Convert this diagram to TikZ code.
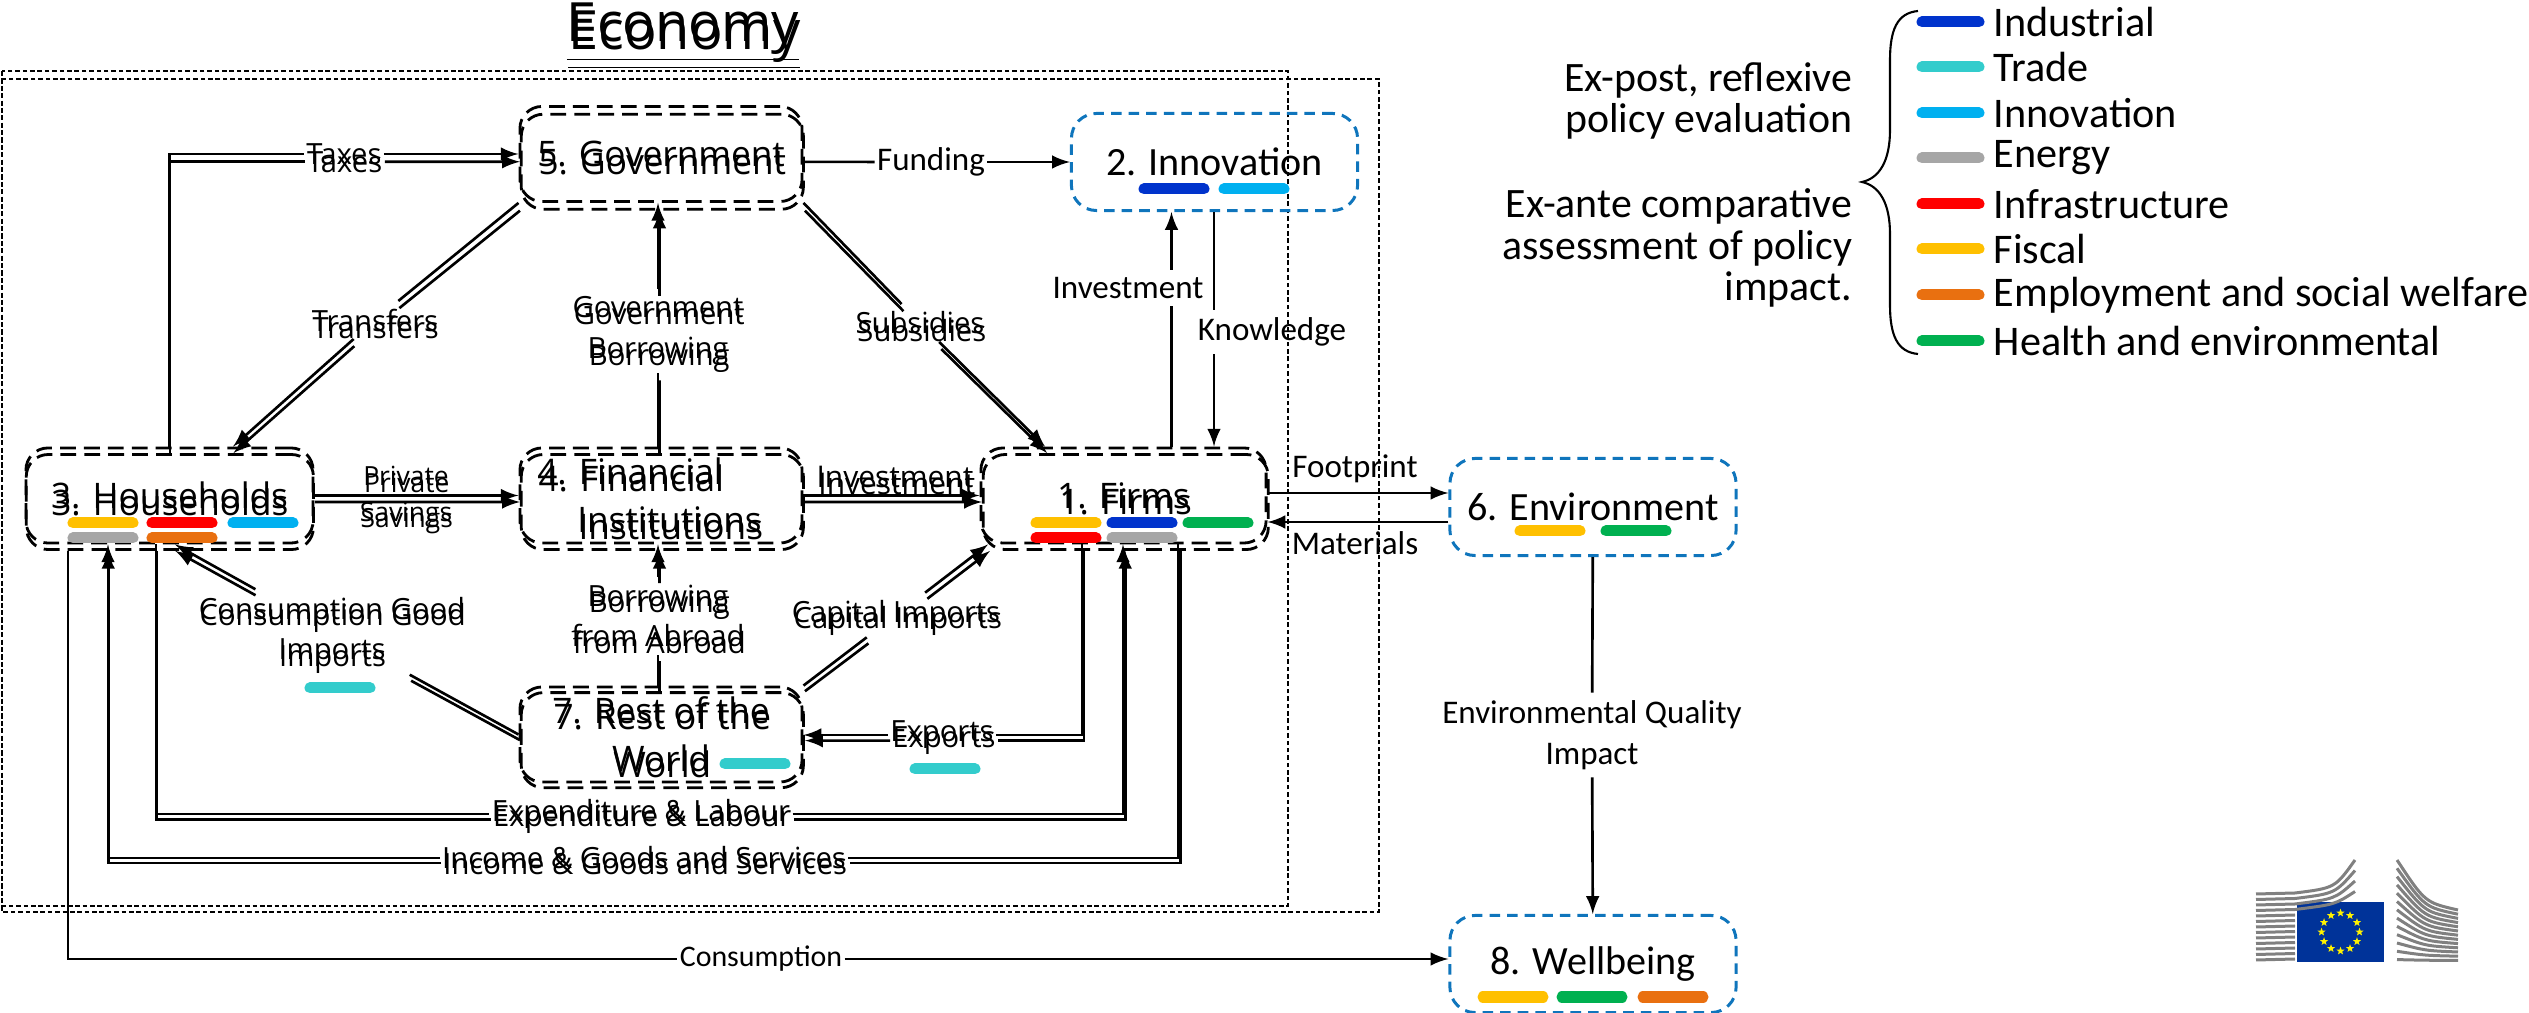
\documentclass[tikz,border=0pt]{standalone}
\usepackage{fontspec}
\setmainfont{Carlito}
\newfontfamily\econfont{Open Sans}
\usetikzlibrary{shapes.geometric}
\definecolor{cInd}{HTML}{0033CC}
\definecolor{cTra}{HTML}{33CCCC}
\definecolor{cInn}{HTML}{00B0F0}
\definecolor{cEne}{HTML}{A6A6A6}
\definecolor{cInf}{HTML}{FF0000}
\definecolor{cFis}{HTML}{FFC000}
\definecolor{cEmp}{HTML}{E97010}
\definecolor{cHea}{HTML}{00B050}
\definecolor{cBlu}{HTML}{0F75BC}
\definecolor{cFlag}{HTML}{003399}
\begin{document}
\begin{tikzpicture}[x=0.01cm,y=-0.01cm]
 \tikzstyle{ecobox}=[draw, dash pattern=on 4.5pt off 2.3pt, line width=0.8pt, rounded corners=0.22cm, inner sep=0, align=center, minimum width=2.82cm, minimum height=0.95cm, font=\econfont\fontsize{10}{13.6}\selectfont]
 \tikzstyle{blubox}=[draw=cBlu, dash pattern=on 3pt off 2pt, line width=0.85pt, rounded corners=0.25cm, inner sep=0, align=center, minimum width=2.86cm, minimum height=0.97cm, font=\fontsize{11.4}{13.6}\selectfont]
 \tikzstyle{lab}=[inner xsep=0.5pt, inner ysep=2pt, align=center, font=\econfont\fontsize{8.3}{11.6}\selectfont]
 \tikzstyle{lib}=[inner xsep=0.5pt, inner ysep=2pt, align=center, font=\fontsize{9.4}{11.6}\selectfont]
 \tikzstyle{leg}=[inner sep=0, anchor=west, font=\fontsize{12}{12}\selectfont]
 \tikzstyle{note}=[inner sep=0, anchor=east, align=right, font=\fontsize{11.9}{11.9}\selectfont]
 \tikzstyle{flow}=[->, >=latex, line width=0.75pt]
 \tikzstyle{pill}=[line width=0.11cm, line cap=round]
 \tikzstyle{frame}=[dash pattern=on 1.3pt off 0.8pt, line width=0.45pt]
 \useasboundingbox (0,0) rectangle (2529,1013);
 %
 \draw[frame] (2,71) rectangle (1288,906);
 \draw[frame] (2,79) rectangle (1379,912);
 %
 \foreach \lay/\ysc/\ysh/\xsc in {a/1/0/1,b/0.9964/-0.083/1.002}{
 \begin{scope}[yshift=\ysh cm, yscale=\ysc, xscale=\xsc]
 \node[inner sep=0, font=\econfont\fontsize{15.4}{16}\selectfont] (Title\lay) at (683,32) {\underline{Economy}};
 %
 \node[ecobox] (Gov\lay) at (661,154) {5. Government};
 \node[ecobox, minimum width=2.87cm] (Hh\lay) at (169.5,495.5) {3. Households};
 \node[ecobox, align=left] (Fin\lay) at (661,495.5) {4. Financial\\\hspace*{0.4cm}Institutions\hspace*{0.23cm}};
 \node[ecobox, minimum width=2.85cm] (Firm\lay) at (1123.5,495.5) {1. Firms};
 \node[ecobox] (Rest\lay) at (661,734.5) {7. Rest of the\\World};
 %
 \node[lab] (Tax\lay) at (344,154) {Taxes};
 \node[lab] (Tran\lay) at (375,320) {Transfers};
 \node[lab] (Gbor\lay) at (658,331) {Government\\Borrowing};
 \node[lab] (Sub\lay) at (920,323) {Subsidies};
 \node[lab, font=\econfont\fontsize{7.5}{10}\selectfont] (Sav\lay) at (406,497) {Private\\Savings};
 \node[lab, font=\econfont\fontsize{8.5}{10}\selectfont] (Inv\lay) at (895,477) {Investment};
 \node[lab] (Impo\lay) at (332,632) {Consumption Good\\Imports};
 \node[lab] (Abr\lay) at (658,616) {Borrowing\\from Abroad};
 \node[lab] (Cap\lay) at (896,615) {Capital Imports};
 \node[lab] (Exp\lay) at (942,735) {Exports};
 \node[lab] (Lab\lay) at (641,814) {Expenditure \& Labour};
 \node[lab] (Inc\lay) at (644,858) {Income \& Goods and Services};
 %
 \draw[flow, -] (Hh\lay.north) |- (Tax\lay);
 \draw[flow] (Tax\lay) -- (Gov\lay);
 \draw[flow, -] (Gov\lay.south west) -- (Tran\lay);
 \draw[flow] (Tran\lay) -- (Hh\lay.north -| 233,0);
 \draw[flow, -] (Fin\lay.north -| Gbor\lay) -- (Gbor\lay);
 \draw[flow] (Gbor\lay) -- (Gov\lay.south -| Gbor\lay);
 \draw[flow, -] (Gov\lay.south east) -- (Sub\lay);
 \draw[flow] (Sub\lay) -- (Firm\lay.north -| 1045,0);
 \draw[flow] (Hh\lay) -- (Fin\lay);
 \draw[flow] (Fin\lay) -- (Firm\lay);
 \draw[flow, -] (Rest\lay.west) -- (Impo\lay);
 \draw[flow] (Impo\lay) -- (Hh\lay.south -| 175,0);
 \draw[flow, -] (Rest\lay.north -| Abr\lay) -- (Abr\lay);
 \draw[flow] (Abr\lay) -- (Fin\lay.south -| Abr\lay);
 \draw[flow, -] (Rest\lay.north east) -- (Cap\lay);
 \draw[flow] (Cap\lay) -- (Firm\lay.south -| 988,0);
 \draw[flow, -] (Firm\lay.south -| 1082,0) |- (Exp\lay);
 \draw[flow] (Exp\lay) -- (Rest\lay.east |- Exp\lay);
 \draw[flow, -] (Hh\lay.south -| 156,0) |- (Lab\lay);
 \draw[flow] (Lab\lay) -| (Firm\lay.south -| 1123,0);
 \draw[flow, -] (Firm\lay.south -| 1178,0) |- (Inc\lay);
 \draw[flow] (Inc\lay) -| (Hh\lay.south -| 108,0);
 \end{scope}
 }
 %
 \node[blubox] (Inno) at (1214.5,162) {2. Innovation};
 \node[blubox] (Envi) at (1593,507) {6. Environment};
 \node[blubox] (Well) at (1593,964) {8. Wellbeing};
 %
 \node[lib] (Fund) at (931,162) {Funding};
 \node[lib] (Invi) at (1128,288) {Investment};
 \node[lib] (Know) at (1272,332) {Knowledge};
 \node[lib] (Foot) at (1355,469) {Footprint};
 \node[lib] (Mate) at (1355,543) {Materials};
 \node[lib] (Qual) at (1592,735) {Environmental Quality\\Impact};
 \node[lib, font=\fontsize{8.5}{10}\selectfont] (Cons) at (761,959) {Consumption};
 %%
 \draw[flow, -] (Govb) -- (Fund);
 \draw[flow] (Fund) -- (Inno);
 \draw[flow, -] (Firma.north -| 1171.5,0) -- (Invi.south -| 1171.5,0);
 \draw[flow] (Invi.north -| 1171.5,0) -- (Inno.south -| 1171.5,0);
 \draw[flow, -] (Inno.south -| 1214,0) -- (Know.north -| 1214,0);
 \draw[flow] (Know.south -| 1214,0) -- (Firma.north -| 1214,0);
 \draw[flow] (Firma.east |- 0,493) -- (Envi.west |- 0,493);
 \draw[flow] (Envi.west |- 0,522) -- (Firma.east |- 0,522);
 \draw[flow, -] (Envi) -- (Qual);
 \draw[flow] (Qual) -- (Well);
 \draw[flow, -] (Hhb.south -| 68,0) |- (Cons);
 \draw[flow] (Cons) -- (Well.west |- Cons);
 %
 \foreach \xx/\yy/\col in {1144/189/cInd,1224/189/cInn,
   1036/523/cFis,1112/523/cInd,1188/523/cHea,1036/538/cInf,1112/538/cEne,
   73/523/cFis,152/523/cInf,233/523/cInn,73/538/cEne,152/538/cEmp,
   310/688/cTra,725/764/cTra,915/769/cTra,
   1520/531/cFis,1606/531/cHea,
   1483/997/cFis,1562/997/cHea,1643/997/cEmp}
   \draw[pill, \col] (\xx,\yy) -- +(60,0);
 %
 \foreach \yy/\col/\txt in {22/cInd/Industrial,67/cTra/Trade,113/cInn/Innovation,158/cEne/Energy,204/cInf/Infrastructure,249/cFis/Fiscal,295/cEmp/Employment and social welfare,341/cHea/Health and environmental}{
   \draw[pill, \col] (1922,\yy) -- (1979,\yy);
   \node[leg] (Leg\yy) at (1993,\yy) {\txt};
 }
 \draw[line width=0.6pt] (1918,11) .. controls (1897,13) and (1890,30) .. (1890,60) -- (1890,130) .. controls (1890,160) and (1880,178) .. (1862,182) .. controls (1880,186) and (1890,204) .. (1890,234) -- (1890,305) .. controls (1890,335) and (1897,352) .. (1918,354);
 \node[note] (Post) at (1853,101) {Ex-post, reflexive\\policy evaluation};
 \node[note] (Ante) at (1853,248) {Ex-ante comparative\\assessment of policy\\impact.};
 %
 \fill[cFlag] (2297,902) rectangle (2384,962);
 \foreach \a in {0,30,...,330}
   \node[star, star points=5, star point ratio=2.4, fill=yellow, inner sep=0, minimum size=0.085cm] (Star\a) at ([shift={(\a:19)}]2340.5,932) {};
 \foreach \i in {0,...,12}{
   \pgfmathsetmacro{\ya}{894+\i*5.5}
   \draw[gray, line width=0.03cm] (2256,\ya) -- (2295,\ya-1);
   \pgfmathsetmacro{\yl}{860+\i*8.3}
   \pgfmathsetmacro{\yr}{910+\i*4.2}
   \draw[gray, line width=0.03cm] (2397,\yl) .. controls (2425,\yl+0.85*\yr-0.85*\yl) .. (2458,\yr);
 }
 \foreach \i in {0,1,2,3}{
   \pgfmathsetmacro{\ya}{894+\i*5.5}
   \pgfmathsetmacro{\yb}{860+\i*10.5}
   \draw[gray, line width=0.03cm] (2295,\ya-1) .. controls (2335,\ya-6) .. (2355,\yb);
 }
\end{tikzpicture}
\end{document}
